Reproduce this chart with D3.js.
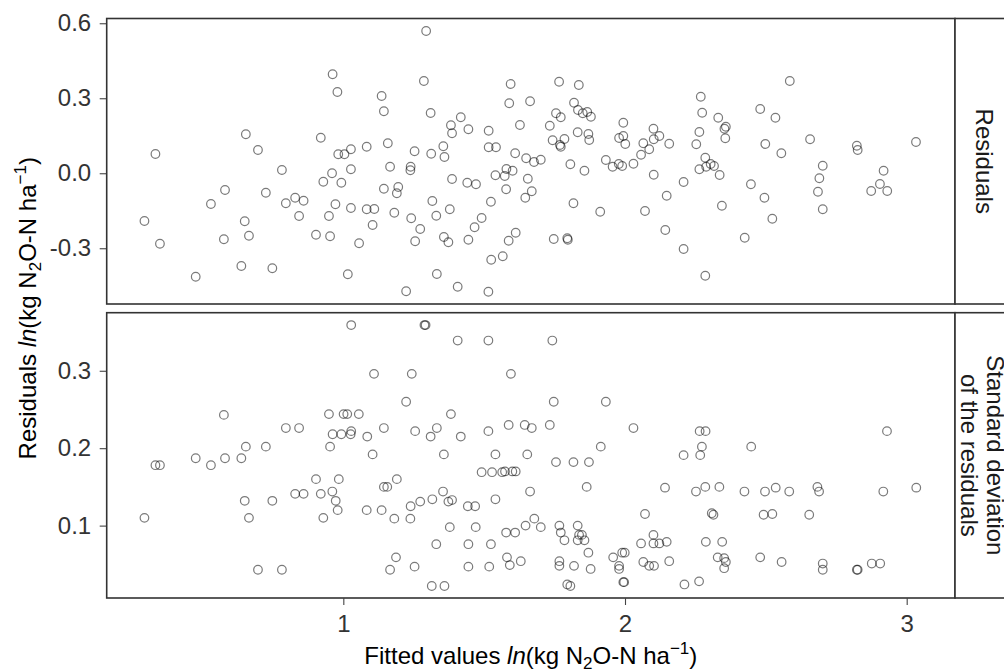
<!DOCTYPE html>
<html>
<head>
<meta charset="utf-8">
<script src="https://cdn.jsdelivr.net/npm/d3@7"></script>
<style>
  body { margin: 0; background: #fff; }
  svg text { font-family: "Liberation Sans", Arial, Helvetica, sans-serif; }
</style>
</head>
<body>
<div id="chart"></div>
<script>
// [fitted value, residual]
var residPoints = [
  [0.962,0.396],[0.979,0.325],[1.136,0.309],[1.144,0.248],[0.654,0.156],[0.920,0.142],[0.697,0.093],[0.333,0.077],
  [0.982,0.076],[1.004,0.076],[1.027,0.096],[1.083,0.106],[1.158,0.120],[1.166,0.026],[0.782,0.013],[0.960,0.000],
  [1.027,0.016],[0.929,-0.034],[0.993,-0.038],[1.144,-0.062],[0.580,-0.067],[0.725,-0.078],[0.530,-0.123],[0.796,-0.120],
  [0.829,-0.098],[0.859,-0.110],[0.972,-0.124],[1.027,-0.139],[1.083,-0.144],[1.110,-0.143],[1.181,-0.158],[0.294,-0.191],
  [0.650,-0.192],[0.843,-0.171],[0.949,-0.171],[1.104,-0.207],[0.349,-0.282],[0.576,-0.264],[0.665,-0.250],[0.903,-0.246],
  [0.953,-0.252],[1.056,-0.280],[0.638,-0.371],[0.748,-0.380],[1.016,-0.404],[0.476,-0.414],
  [1.294,0.569],[1.286,0.369],[1.594,0.357],[1.766,0.366],[1.836,0.353],[1.589,0.280],[1.663,0.288],[1.819,0.282],
  [1.833,0.253],[1.850,0.240],[1.866,0.245],[1.879,0.226],[1.755,0.240],[1.772,0.224],[1.310,0.241],[1.417,0.224],
  [1.382,0.192],[1.386,0.160],[1.444,0.176],[1.516,0.170],[1.627,0.193],[1.733,0.190],[1.832,0.164],[1.870,0.157],
  [1.873,0.133],[1.743,0.132],[1.785,0.137],[1.769,0.113],[1.772,0.106],[1.994,0.202],[2.101,0.178],[2.122,0.149],
  [2.102,0.136],[2.157,0.118],[1.979,0.141],[1.994,0.149],[2.001,0.117],[2.065,0.120],[2.086,0.096],[2.057,0.074],
  [1.253,0.088],[1.312,0.078],[1.355,0.108],[1.359,0.065],[1.516,0.104],[1.542,0.104],[1.610,0.080],[1.649,0.060],
  [1.677,0.045],[1.701,0.054],[1.239,0.026],[1.238,0.012],[1.806,0.036],[1.856,0.010],[1.932,0.053],[1.956,0.026],
  [1.978,0.037],[1.990,0.029],[2.030,0.038],[2.102,-0.006],[1.579,0.017],[1.601,0.010],[1.540,-0.008],[1.573,-0.011],
  [1.655,-0.022],[1.195,-0.055],[1.190,-0.080],[1.386,-0.023],[1.440,-0.038],[1.471,-0.044],[1.578,-0.064],[1.669,-0.072],
  [1.646,-0.098],[1.316,-0.111],[1.524,-0.114],[1.817,-0.120],[1.912,-0.154],[2.071,-0.151],[2.148,-0.090],[1.241,-0.180],
  [1.330,-0.170],[1.378,-0.144],[1.491,-0.179],[1.273,-0.223],[1.466,-0.216],[1.255,-0.272],[1.357,-0.255],[1.373,-0.276],
  [1.444,-0.266],[1.587,-0.270],[1.612,-0.238],[1.747,-0.263],[1.795,-0.260],[1.797,-0.266],[2.143,-0.227],[1.525,-0.346],
  [1.566,-0.332],[1.332,-0.403],[1.406,-0.454],[1.223,-0.472],[1.515,-0.474],
  [2.585,0.369],[2.269,0.306],[2.274,0.242],[2.331,0.222],[2.480,0.257],[2.534,0.222],[2.358,0.186],[2.353,0.178],
  [2.356,0.140],[2.264,0.165],[2.253,0.116],[2.498,0.117],[2.555,0.080],[2.657,0.136],[2.823,0.110],[2.826,0.093],
  [3.033,0.125],[2.285,0.062],[2.304,0.037],[2.316,0.029],[2.288,0.026],[2.264,0.016],[2.336,-0.007],[2.208,-0.035],
  [2.447,-0.044],[2.702,0.030],[2.690,-0.020],[2.685,-0.074],[2.702,-0.144],[2.918,0.010],[2.905,-0.043],[2.874,-0.071],
  [2.931,-0.071],[2.495,-0.098],[2.344,-0.130],[2.523,-0.182],[2.425,-0.258],[2.208,-0.303],[2.285,-0.410]
];

// [fitted value, standard deviation of the residuals]
var sdPoints = [
  [1.028,0.359],[1.109,0.296],[0.576,0.243],[0.949,0.244],[1.001,0.244],[1.014,0.244],[1.055,0.244],[0.796,0.226],
  [0.843,0.226],[1.144,0.226],[0.962,0.218],[0.993,0.218],[1.028,0.222],[1.026,0.218],[1.085,0.215],[0.654,0.202],
  [0.725,0.202],[0.953,0.202],[1.104,0.192],[0.333,0.178],[0.349,0.178],[0.476,0.187],[0.530,0.178],[0.580,0.187],
  [0.638,0.187],[0.903,0.160],[0.984,0.160],[1.190,0.160],[1.144,0.150],[1.156,0.150],[0.829,0.141],[0.859,0.141],
  [0.920,0.141],[0.961,0.144],[0.973,0.132],[0.650,0.132],[0.748,0.132],[0.980,0.120],[1.083,0.120],[1.136,0.120],
  [0.294,0.110],[0.665,0.110],[0.929,0.110],[1.181,0.109],[1.187,0.059],[0.697,0.043],[0.782,0.043],[1.166,0.043],
  [1.288,0.359],[1.292,0.359],[1.406,0.339],[1.515,0.339],[1.742,0.339],[1.243,0.296],[1.595,0.296],[1.223,0.260],
  [1.747,0.260],[1.932,0.260],[1.382,0.244],[1.255,0.222],[1.332,0.226],[1.310,0.215],[1.417,0.215],[1.515,0.222],
  [1.587,0.230],[1.644,0.230],[1.669,0.226],[1.733,0.230],[2.030,0.226],[1.914,0.202],[1.357,0.192],[1.540,0.192],
  [1.653,0.192],[1.755,0.182],[1.817,0.182],[1.872,0.182],[1.491,0.169],[1.528,0.169],[1.564,0.169],[1.574,0.170],
  [1.600,0.170],[1.612,0.170],[1.354,0.144],[1.373,0.131],[1.386,0.133],[1.316,0.134],[1.540,0.134],[1.663,0.144],
  [1.864,0.150],[2.142,0.149],[1.239,0.125],[1.273,0.131],[1.442,0.125],[1.468,0.125],[1.238,0.109],[1.378,0.098],
  [1.470,0.098],[1.578,0.091],[1.610,0.091],[1.647,0.100],[1.678,0.109],[1.701,0.098],[1.767,0.100],[1.772,0.091],
  [1.785,0.081],[1.832,0.100],[1.837,0.088],[1.847,0.088],[1.832,0.081],[1.856,0.081],[2.071,0.115],[2.101,0.088],
  [2.057,0.077],[2.101,0.077],[2.122,0.077],[2.148,0.079],[1.330,0.076],[1.444,0.076],[1.524,0.076],[1.870,0.065],
  [1.958,0.059],[1.990,0.065],[1.999,0.065],[1.979,0.048],[1.979,0.044],[2.065,0.053],[2.086,0.048],[2.103,0.048],
  [2.157,0.054],[1.253,0.047],[1.444,0.047],[1.518,0.047],[1.581,0.059],[1.591,0.049],[1.630,0.054],[1.767,0.054],
  [1.767,0.048],[1.819,0.048],[1.878,0.044],[1.314,0.022],[1.359,0.022],[1.795,0.024],[1.806,0.022],[1.994,0.027],
  [1.997,0.027],
  [2.265,0.222],[2.286,0.222],[2.930,0.222],[2.273,0.202],[2.208,0.191],[2.267,0.191],[2.448,0.202],[2.252,0.144],
  [2.285,0.150],[2.335,0.150],[2.424,0.144],[2.497,0.144],[2.535,0.149],[2.583,0.144],[2.683,0.150],[2.689,0.144],
  [2.917,0.144],[3.034,0.149],[2.308,0.116],[2.314,0.114],[2.492,0.114],[2.523,0.115],[2.654,0.114],[2.287,0.079],
  [2.345,0.079],[2.329,0.059],[2.352,0.058],[2.358,0.053],[2.352,0.045],[2.480,0.059],[2.556,0.053],[2.702,0.051],
  [2.702,0.043],[2.823,0.043],[2.826,0.043],[2.876,0.051],[2.906,0.051],[2.211,0.024],[2.263,0.028]
];

var xTicks = [1, 2, 3];
var residTicks = [-0.3, 0, 0.3, 0.6];
var residTickLabels = ['-0.3', '0.0', '0.3', '0.6'];
var sdTicks = [0.1, 0.2, 0.3];
var sdTickLabels = ['0.1', '0.2', '0.3'];
var residStrip = ['Residuals'];
var sdStrip = ['Standard deviation', 'of the residuals'];

var width = 1004,
    height = 670,
    fontSize = 24,
    plotLeft = 106.7,
    plotRight = 955,
    stripRight = 1013;

var panels = [
    {data: residPoints, domain: [-0.523, 0.619], top: 18.5, bottom: 304,
     ticks: residTicks, labels: residTickLabels, strip: residStrip, stripX: [975.5]},
    {data: sdPoints, domain: [0.0065, 0.375], top: 312.7, bottom: 598,
     ticks: sdTicks, labels: sdTickLabels, strip: sdStrip, stripX: [987, 960.5]}
];

var svg = d3.select('#chart').append('svg')
    .attr('width', width)
    .attr('height', height);

var x = d3.scaleLinear().domain([0.160, 3.1715]).range([plotLeft, plotRight]);

// writes "<lead> ln(kg N2O-N ha-1)" into a text element
function unitLabel(text, lead) {
    text.append('tspan').text(lead);
    text.append('tspan').style('font-style', 'italic').text('ln');
    text.append('tspan').text('(kg N');
    text.append('tspan').attr('dy', 5).style('font-size', '17px').text('2');
    text.append('tspan').attr('dy', -5).text('O-N ha');
    text.append('tspan').attr('dy', -10).style('font-size', '17px').text('\u22121');
    text.append('tspan').attr('dy', 10).text(')');
}

panels.forEach(function(p) {
    var y = d3.scaleLinear().domain(p.domain).range([p.bottom, p.top]);
    var g = svg.append('g');

    // points
    g.selectAll('circle').data(p.data).enter().append('circle')
        .attr('cx', function(d) { return x(d[0]); })
        .attr('cy', function(d) { return y(d[1]); })
        .attr('r', 4.3)
        .attr('fill', 'none')
        .attr('stroke', '#000')
        .attr('stroke-opacity', 0.52)
        .attr('stroke-width', 1.2);

    // y axis
    var yAxis = d3.axisLeft(y)
        .tickValues(p.ticks)
        .tickFormat(function(d, i) { return p.labels[i]; })
        .tickSize(7)
        .tickPadding(8.5);
    var ay = g.append('g')
        .attr('transform', 'translate(' + plotLeft + ',0)')
        .call(yAxis);
    ay.select('.domain').remove();
    ay.selectAll('line').attr('stroke', '#444').attr('stroke-width', 1.1);
    ay.selectAll('text').attr('fill', '#333').style('font-size', fontSize + 'px');

    // panel frame and strip
    g.append('rect')
        .attr('x', plotLeft).attr('y', p.top)
        .attr('width', plotRight - plotLeft).attr('height', p.bottom - p.top)
        .attr('fill', 'none').attr('stroke', '#333').attr('stroke-width', 1.6);
    g.append('rect')
        .attr('x', plotRight).attr('y', p.top)
        .attr('width', stripRight - plotRight).attr('height', p.bottom - p.top)
        .attr('fill', '#fff').attr('stroke', '#333').attr('stroke-width', 1.6);

    var cy = (p.top + p.bottom) / 2;
    p.strip.forEach(function(line, i) {
        g.append('text')
            .attr('transform', 'translate(' + p.stripX[i] + ',' + cy + ') rotate(90)')
            .attr('text-anchor', 'middle')
            .attr('fill', '#1a1a1a')
            .style('font-size', fontSize + 'px')
            .text(line);
    });
});

// x axis under the lower panel
var xAxis = d3.axisBottom(x)
    .tickValues(xTicks)
    .tickFormat(d3.format('d'))
    .tickSize(7)
    .tickPadding(10);
var ax = svg.append('g')
    .attr('transform', 'translate(0,' + panels[1].bottom + ')')
    .call(xAxis);
ax.select('.domain').remove();
ax.selectAll('line').attr('stroke', '#444').attr('stroke-width', 1.1);
ax.selectAll('text').attr('fill', '#333').style('font-size', fontSize + 'px');

// axis titles
var xt = svg.append('text')
    .attr('x', (plotLeft + plotRight) / 2)
    .attr('y', 664)
    .attr('text-anchor', 'middle')
    .style('font-size', fontSize + 'px');
unitLabel(xt, 'Fitted values ');

var yt = svg.append('text')
    .attr('transform', 'translate(36,' + (panels[0].top + panels[1].bottom) / 2 + ') rotate(-90)')
    .attr('text-anchor', 'middle')
    .style('font-size', fontSize + 'px');
unitLabel(yt, 'Residuals ');
</script>
</body>
</html>
